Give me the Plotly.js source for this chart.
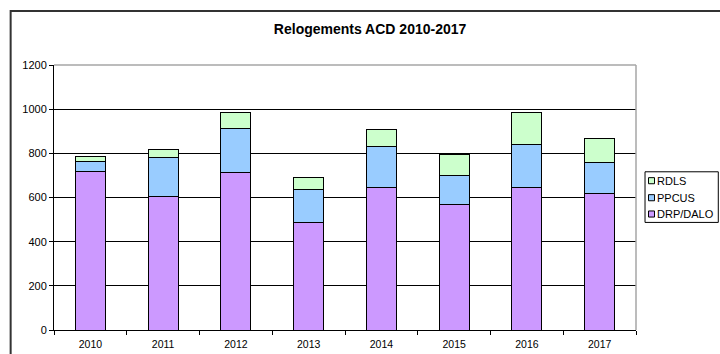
<!DOCTYPE html>
<html>
<head>
<meta charset="utf-8">
<script src="https://cdn.plot.ly/plotly-3.0.1.min.js"></script>
<style>
html,body{margin:0;padding:0;background:#fff;}
#chart{width:720px;height:354px;}
</style>
</head>
<body>
<div id="chart"></div>
<script>
var years = ["2010","2011","2012","2013","2014","2015","2016","2017"];
var drpDalo = [720, 603, 712, 488, 644, 568, 644, 617];
var ppcus   = [42, 180, 201, 150, 189, 130, 196, 140];
var rdls    = [22, 35, 72, 54, 76, 98, 146, 112];
var yTicks  = [0, 200, 400, 600, 800, 1000, 1200];
var seriesNames  = ["DRP/DALO", "PPCUS", "RDLS"];
var seriesColors = ["#CC99FF", "#99CCFF", "#CCFFCC"];

var line = {color:'#000000', width:1};
var values = [drpDalo, ppcus, rdls];
var traces = values.map(function(v, i){
  return {type:'bar', name:seriesNames[i], x:years, y:v, showlegend:false,
          marker:{color:seriesColors[i], line:line}};
});

// legend drawn in paper coordinates (order reversed like the stack)
var legX0 = 1.0155, legX1 = 1.1414, legY0 = 0.406, legY1 = 0.597;
var itemY = [0.4377, 0.4992, 0.5634]; // DRP/DALO, PPCUS, RDLS
var shapes = [
  {type:'line', xref:'paper', yref:'paper', x0:0, x1:1, y0:1, y1:1, line:{color:'#a6a6a6', width:1.5}},
  {type:'line', xref:'paper', yref:'paper', x0:1, x1:1, y0:0, y1:1, line:{color:'#a6a6a6', width:1.5}},
  {type:'rect', xref:'paper', yref:'paper', x0:-0.0745, x1:1.3, y0:-0.3, y1:1.204, line:{color:'#333333', width:2}},
  {type:'rect', xref:'paper', yref:'paper', x0:legX0, x1:legX1, y0:legY0, y1:legY1, line:{color:'#000', width:1}, fillcolor:'#fff'}
];
var annotations = [];
seriesNames.forEach(function(n, i){
  shapes.push({type:'rect', xref:'paper', yref:'paper', x0:1.0215, x1:1.0318,
               y0:itemY[i]-0.0115, y1:itemY[i]+0.0115, line:{color:'#000', width:1}, fillcolor:seriesColors[i]});
  annotations.push({xref:'paper', yref:'paper', x:1.0345, y:itemY[i], xanchor:'left', yanchor:'middle',
                    text:n, showarrow:false, font:{size:11, color:'#000'}, borderpad:0});
});

var layout = {
  width:720, height:354,
  margin:{l:54, r:84, t:65, b:24, pad:0},
  paper_bgcolor:'#ffffff', plot_bgcolor:'#ffffff',
  font:{family:'Liberation Sans, Arial, sans-serif', size:10, color:'#000'},
  title:{text:'<b>Relogements ACD 2010-2017</b>', font:{size:14, color:'#000'}, x:0.514, xanchor:'center', y:0.918, yanchor:'middle'},
  barmode:'stack', bargap:0.59,
  showlegend:false,
  xaxis:{type:'category', tickson:'boundaries', ticks:'outside', ticklen:4, tickcolor:'#000',
         showline:true, linecolor:'#000', linewidth:1, showgrid:false, automargin:false,
         tickfont:{size:10.5}, ticklabelstandoff:4, fixedrange:true},
  yaxis:{range:[0,1200], tickvals:yTicks, ticks:'outside', ticklen:4, tickcolor:'#000',
         showline:true, linecolor:'#000', linewidth:1, showgrid:true, gridcolor:'#000', gridwidth:1,
         zeroline:false, automargin:false, tickfont:{size:11}, fixedrange:true},
  shapes:shapes,
  annotations:annotations
};

Plotly.newPlot('chart', traces, layout, {displayModeBar:false, staticPlot:true});
</script>
</body>
</html>
